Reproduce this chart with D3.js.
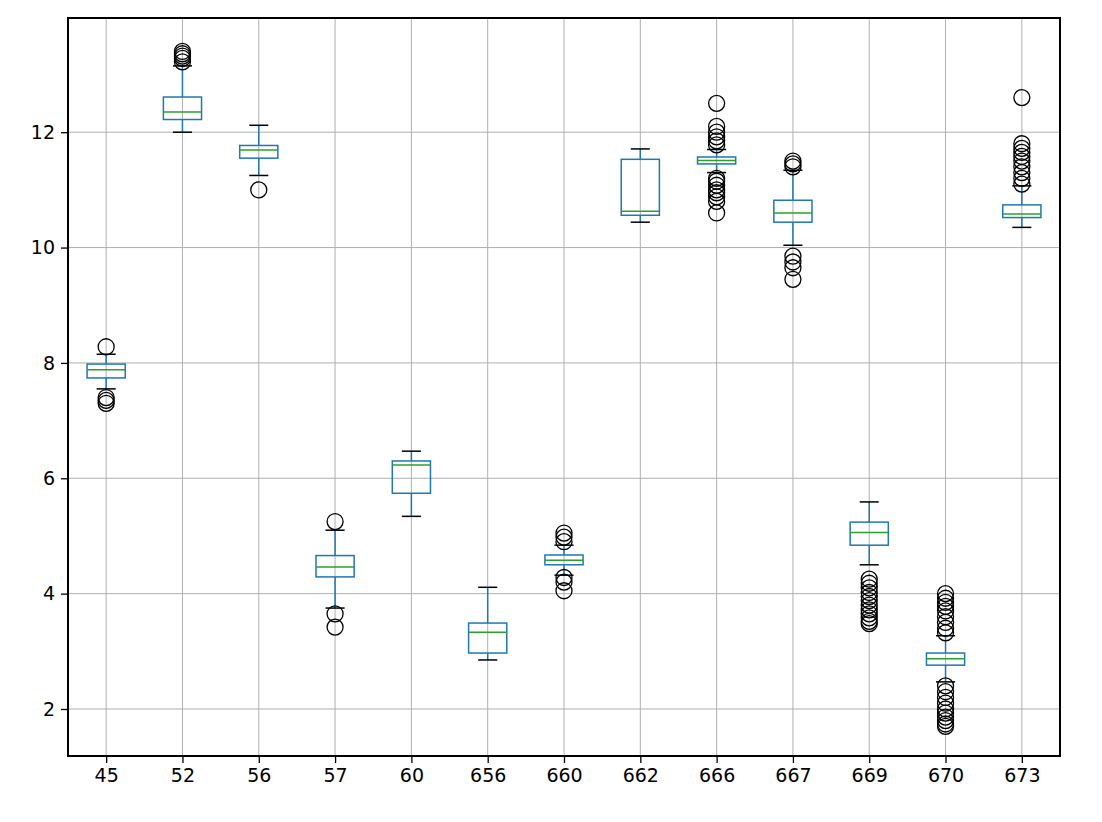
<!DOCTYPE html>
<html><head><meta charset="utf-8">
<script src="https://cdn.jsdelivr.net/npm/d3@7"></script>
<style>body{margin:0;background:#fff;font-family:"DejaVu Sans",sans-serif}</style>
</head><body>
<svg id="chart" width="1102" height="822"></svg>
<script>
// categories and box statistics
var categories = ["45","52","56","57","60","656","660","662","666","667","669","670","673"];
var whiskLo = [7.55,12.0,11.25,3.75,5.34,2.85,4.32,10.44,11.3,10.04,4.5,2.47,10.35];
var q1      = [7.74,12.22,11.55,4.29,5.74,2.97,4.5,10.56,11.45,10.44,4.84,2.76,10.52];
var medians = [7.88,12.35,11.69,4.46,6.23,3.33,4.58,10.63,11.51,10.6,5.06,2.87,10.58];
var q3      = [7.98,12.61,11.77,4.66,6.3,3.49,4.67,11.53,11.57,10.82,5.24,2.97,10.74];
var whiskHi = [8.15,13.15,12.12,5.1,6.47,4.11,4.84,11.71,11.7,11.34,5.59,3.27,11.07];
var outliers = [
  [8.28,7.3,7.35,7.4],
  [13.22,13.28,13.32,13.36,13.4],
  [11.0],
  [5.25,3.65,3.42],
  [],
  [],
  [4.9,4.98,5.05,4.28,4.2,4.05],
  [],
  [12.5,12.1,12.0,11.92,11.85,11.78,11.2,11.15,11.08,11.0,10.95,10.88,10.8,10.6],
  [11.4,11.45,11.5,9.85,9.75,9.65,9.45],
  [4.25,4.18,4.1,4.02,3.95,3.88,3.8,3.72,3.65,3.58,3.52,3.48],
  [3.32,3.4,3.5,3.6,3.7,3.78,3.85,3.92,4.0,2.4,2.3,2.2,2.1,2.0,1.93,1.86,1.8,1.74,1.7],
  [11.1,11.2,11.3,11.4,11.5,11.58,11.65,11.72,11.8,12.6]
];
var yTicks = [2,4,6,8,10,12];

var svg = d3.select("#chart");
var pLeft = 68, pRight = 1060, pTop = 18, pBottom = 756;
var x = d3.scaleLinear().domain([0.5, 13.5]).range([pLeft, pRight]);
var y = d3.scaleLinear().domain([1.185, 13.98]).range([pBottom, pTop]);

// grid
svg.append("g").selectAll("line").data(yTicks).join("line")
  .attr("x1", pLeft).attr("x2", pRight).attr("y1", d => y(d)).attr("y2", d => y(d))
  .attr("stroke", "#b0b0b0").attr("stroke-width", 1);
svg.append("g").selectAll("line").data(categories).join("line")
  .attr("x1", (d,i) => x(i+1)).attr("x2", (d,i) => x(i+1)).attr("y1", pTop).attr("y2", pBottom)
  .attr("stroke", "#b0b0b0").attr("stroke-width", 1);

// axes
var xAxis = d3.axisBottom(x).tickValues(d3.range(1, 14)).tickFormat(d => categories[d-1]).tickSize(7).tickPadding(6);
var yAxis = d3.axisLeft(y).tickValues(yTicks).tickSize(7).tickPadding(6);
svg.append("g").attr("transform", "translate(0," + pBottom + ")").call(xAxis);
svg.append("g").attr("transform", "translate(" + pLeft + ",0)").call(yAxis);
svg.selectAll(".domain").remove();
svg.selectAll(".tick text").attr("font-size", 19).attr("fill", "#000").attr("font-family", "DejaVu Sans");
svg.selectAll(".tick line").attr("stroke", "#000").attr("stroke-width", 1.3);

var hw = (x(1.25) - x(1));
var g = svg.append("g");
categories.forEach(function(c, i) {
  var cx = x(i+1);
  g.append("line").attr("x1", cx).attr("x2", cx).attr("y1", y(whiskLo[i])).attr("y2", y(q1[i])).attr("stroke", "#1f77b4").attr("stroke-width", 1.5);
  g.append("line").attr("x1", cx).attr("x2", cx).attr("y1", y(whiskHi[i])).attr("y2", y(q3[i])).attr("stroke", "#1f77b4").attr("stroke-width", 1.5);
  [whiskLo[i], whiskHi[i]].forEach(function(v) {
    g.append("line").attr("x1", cx - hw/2).attr("x2", cx + hw/2).attr("y1", y(v)).attr("y2", y(v)).attr("stroke", "#000").attr("stroke-width", 1.5);
  });
  g.append("rect").attr("x", cx - hw).attr("width", 2*hw).attr("y", y(q3[i])).attr("height", y(q1[i]) - y(q3[i]))
    .attr("fill", "none").attr("stroke", "#1f77b4").attr("stroke-width", 1.5);
  g.append("line").attr("x1", cx - hw).attr("x2", cx + hw).attr("y1", y(medians[i])).attr("y2", y(medians[i])).attr("stroke", "#2ca02c").attr("stroke-width", 1.5);
  g.selectAll(null).data(outliers[i]).join("circle").attr("cx", cx).attr("cy", d => y(d)).attr("r", 8)
    .attr("fill", "none").attr("stroke", "#000").attr("stroke-width", 1.3);
});

svg.append("rect").attr("x", pLeft).attr("y", pTop).attr("width", pRight-pLeft).attr("height", pBottom-pTop)
  .attr("fill", "none").attr("stroke", "#000").attr("stroke-width", 2);
</script>
</body></html>
